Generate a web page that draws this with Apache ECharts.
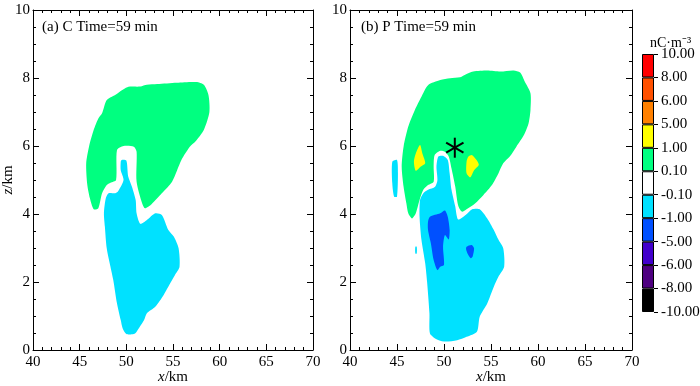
<!DOCTYPE html>
<html><head><meta charset="utf-8">
<script src="https://cdn.jsdelivr.net/npm/echarts@6/dist/echarts.min.js"></script>
<style>html,body{margin:0;padding:0;background:#fff}#c{width:700px;height:386px}</style>
</head><body><div id="c"></div>
<script>
const panelTitles = ['(a) C Time=59 min', '(b) P Time=59 min'];
const xRange = [40, 70];
const zRange = [0, 10];
// colour bar: boundaries bottom -> top, colours of each bin bottom -> top
const cbLabels = ['-10.00','-8.00','-6.00','-5.00','-1.00','-0.10','0.10','1.00','5.00','6.00','8.00','10.00'];
const cbColors = ['#000000','#4e0080','#4200cc','#0050ff','#00e1ff','#ffffff','#00ff80','#ffff00','#ff8000','#ff5000','#ff0000'];
const LV = {blue:3, cyan:4, green:6, yellow:7};

// Panel (a) contour polygons [x km, z km]
const aGreen = [[47.9,7.35],[48.8,7.5],[50.1,7.73],[51.5,7.75],[52.2,7.8],[53.3,7.82],[55.4,7.86],[57.5,7.88],[58.3,7.8],[58.8,7.5],[58.9,7.0],[58.3,6.47],[57.4,6.13],[56.8,5.98],[55.9,5.59],[54.9,4.95],[53.8,4.61],[52.7,4.29],[52.0,4.17],[51.7,4.31],[51.1,4.95],[51.1,5.83],[50.8,5.98],[49.7,6.0],[49.0,5.88],[48.9,5.0],[48.3,4.92],[47.9,4.85],[47.4,4.61],[47.0,4.17],[46.5,4.14],[46.1,4.46],[45.8,4.9],[45.7,5.49],[46.0,5.98],[46.5,6.47],[47.0,6.81],[47.4,6.96]];
const aCyan = [[49.5,5.59],[50.0,5.57],[50.2,5.1],[50.6,4.8],[51.0,4.41],[51.1,4.02],[51.5,3.71],[52.2,3.82],[53.1,4.02],[53.8,3.97],[54.5,3.53],[55.1,3.33],[55.6,2.99],[55.7,2.45],[55.2,2.2],[54.7,1.96],[54.0,1.62],[53.1,1.27],[52.2,1.08],[51.9,0.88],[51.1,0.54],[50.8,0.47],[50.0,0.47],[49.6,0.64],[49.4,0.88],[49.0,1.37],[48.6,2.06],[48.3,2.45],[47.9,2.99],[47.7,3.63],[47.6,4.02],[47.8,4.46],[48.1,4.61],[48.8,4.61],[49.1,4.66],[49.7,5.0],[49.4,5.29],[49.4,5.54]];

// Panel (b) contour polygons
const bGreen = [[48.3,7.79],[49.6,7.94],[50.65,7.99],[51.7,8.02],[52.2,8.09],[53.1,8.19],[54.6,8.22],[56.0,8.19],[57.4,8.22],[58.1,8.16],[58.6,7.89],[59.2,7.55],[59.2,7.06],[59.0,6.67],[58.5,6.32],[57.7,5.98],[57.0,5.69],[56.3,5.49],[55.8,5.2],[55.1,4.85],[54.2,4.56],[53.3,4.31],[52.4,4.14],[51.9,4.07],[51.5,4.26],[51.2,4.8],[50.8,5.34],[50.5,5.69],[50.1,5.83],[49.6,5.86],[49.0,5.73],[48.9,5.39],[48.9,4.95],[48.3,4.85],[47.8,4.71],[47.4,4.41],[47.0,4.02],[46.6,3.87],[46.2,4.02],[46.0,4.31],[45.7,4.8],[45.5,5.39],[45.7,5.98],[46.2,6.57],[46.9,7.06],[47.6,7.45]];
const bYellowL = [[47.45,6.03],[47.7,5.78],[48.0,5.49],[47.5,5.39],[47.0,5.27],[46.8,5.54],[47.0,5.78]];
const bYellowR = [[53.0,5.73],[53.5,5.57],[53.7,5.44],[53.2,5.29],[52.8,5.08],[52.4,5.2],[52.4,5.54],[52.6,5.69]];
const bCyan = [[49.4,5.69],[49.9,5.71],[50.4,5.59],[50.6,5.2],[50.8,4.71],[51.2,4.22],[51.5,3.84],[52.3,3.97],[53.0,4.14],[53.8,4.14],[54.6,3.87],[55.3,3.53],[55.8,3.24],[56.3,2.99],[56.4,2.45],[55.8,2.16],[55.3,1.86],[54.6,1.37],[53.8,0.98],[53.5,0.54],[52.4,0.39],[51.4,0.29],[50.0,0.25],[49.05,0.34],[48.5,0.49],[48.45,1.08],[48.2,2.01],[48.0,2.55],[47.6,3.24],[47.4,3.92],[47.45,4.41],[47.8,4.61],[48.3,4.71],[49.05,4.8],[49.3,5.0],[49.2,5.39]];
const bCyanSmall = [[44.5,5.54],[45.0,5.59],[45.1,5.2],[45.0,4.51],[44.7,4.51],[44.5,4.9]];
const bCyanTiny = [[46.95,3.04],[47.1,3.04],[47.1,2.84],[46.95,2.84]];
const bBlueL = [[48.5,3.92],[49.6,4.02],[50.1,4.1],[50.4,3.92],[50.6,3.53],[50.5,3.25],[50.1,3.38],[49.9,3.04],[50.0,2.5],[49.6,2.45],[49.3,2.35],[48.9,2.65],[48.6,3.14],[48.3,3.53],[48.3,3.77]];
const bBlueR = [[52.4,3.04],[52.95,3.09],[53.2,2.99],[53.05,2.75],[52.85,2.7],[52.5,2.84],[52.35,2.96]];
const bStar = [51.15, 5.95];

const FONT = '"Liberation Serif", "Times New Roman", serif';
const black = '#000';

function polySeries(idx, polys, levels) {
  return {
    type: 'custom', xAxisIndex: idx, yAxisIndex: idx, silent: true, animation: false, clip: true,
    data: polys.map(p => p[0]),
    renderItem: (params, api) => {
      const pts = polys[params.dataIndex].map(v => api.coord(v));
      return {type: 'polygon', shape: {points: pts, smooth: 0.25}, style: {fill: cbColors[levels[params.dataIndex]], stroke: null}};
    }
  };
}

function xAx(grid, pos, withLabel) {
  return {
    type: 'value', gridIndex: grid, position: pos, min: xRange[0], max: xRange[1], interval: 5,
    axisLine: {show: true, onZero: false, lineStyle: {color: black, width: 1}},
    axisTick: {show: true, inside: true, length: 6, lineStyle: {color: black}},
    minorTick: {show: true, splitNumber: 5, length: 3, lineStyle: {color: black}},
    splitLine: {show: false},
    axisLabel: {show: withLabel, color: black, fontFamily: FONT, fontSize: 15, margin: 5},
    name: withLabel ? '{i|x}/km' : '', nameLocation: 'middle', nameGap: 20, nameMoveOverlap: false,
    nameTextStyle: {color: black, fontFamily: FONT, fontSize: 15, rich: {i: {fontStyle: 'italic', fontFamily: FONT, fontSize: 15, color: black}}}
  };
}
function yAx(grid, pos, withLabel, withName) {
  return {
    type: 'value', gridIndex: grid, position: pos, min: zRange[0], max: zRange[1], interval: 2,
    axisLine: {show: true, onZero: false, lineStyle: {color: black, width: 1}},
    axisTick: {show: true, inside: true, length: 6, lineStyle: {color: black}},
    minorTick: {show: true, splitNumber: 4, length: 3, lineStyle: {color: black}},
    splitLine: {show: false},
    axisLabel: {show: withLabel, color: black, fontFamily: FONT, fontSize: 15, margin: 3},
    name: withName ? '{i|z}/km' : '', nameLocation: 'middle', nameGap: 17, nameRotate: 90, nameMoveOverlap: false,
    nameTextStyle: {color: black, fontFamily: FONT, fontSize: 15, rich: {i: {fontStyle: 'italic', fontFamily: FONT, fontSize: 15, color: black}}}
  };
}

const cbSeries = cbColors.map((c, i) => ({
  type: 'bar', xAxisIndex: 4, yAxisIndex: 4, stack: 'cb', barWidth: '100%', silent: true, animation: false,
  data: [1], itemStyle: {color: c, borderColor: black, borderWidth: 1}
}));

const G = {outerBoundsMode: 'none', containLabel: false};
const option = {
  backgroundColor: '#fff',
  animation: false,
  title: [
    {text: panelTitles[0], left: 42, top: 20, padding: 0, textStyle: {fontFamily: FONT, fontSize: 15, fontWeight: 'normal', color: black}},
    {text: panelTitles[1], left: 361, top: 20, padding: 0, textStyle: {fontFamily: FONT, fontSize: 15, fontWeight: 'normal', color: black}},
    {text: 'nC·m⁻³', left: 650, top: 36, padding: 0, textStyle: {fontFamily: FONT, fontSize: 14, fontWeight: 'normal', color: black}}
  ],
  grid: [
    {left: 33, top: 10, width: 280, height: 340, ...G},
    {left: 33, top: 10, width: 280, height: 340, ...G},
    {left: 350, top: 10, width: 282, height: 340, ...G},
    {left: 350, top: 10, width: 282, height: 340, ...G},
    {left: 642, top: 54, width: 12, height: 258, ...G}
  ],
  xAxis: [
    xAx(0, 'bottom', true), xAx(1, 'top', false), xAx(2, 'bottom', true), xAx(3, 'top', false),
    {type: 'category', gridIndex: 4, data: ['c'], show: false}
  ],
  yAxis: [
    yAx(0, 'left', true, true), yAx(1, 'right', false, false), yAx(2, 'left', true, false), yAx(3, 'right', false, false),
    {type: 'value', gridIndex: 4, position: 'right', min: 0, max: cbColors.length, interval: 1,
     axisLine: {show: false}, splitLine: {show: false},
     axisTick: {show: true, inside: false, length: 4, lineStyle: {color: black}},
     axisLabel: {color: black, fontFamily: FONT, fontSize: 15, margin: 7, formatter: v => cbLabels[Math.round(v)]}}
  ],
  series: [
    polySeries(0, [aGreen, aCyan], [LV.green, LV.cyan]),
    polySeries(2, [bGreen, bYellowL, bYellowR, bCyan, bCyanSmall, bCyanTiny, bBlueL, bBlueR],
      [LV.green, LV.yellow, LV.yellow, LV.cyan, LV.cyan, LV.cyan, LV.blue, LV.blue]),
    {type: 'custom', xAxisIndex: 2, yAxisIndex: 2, silent: true, animation: false, data: [bStar],
     renderItem: (params, api) => {
       const c = api.coord([api.value(0), api.value(1)]);
       const r = 10;
       return {type: 'group', children: [0, 60, 120].map(a => {
         const t = a * Math.PI / 180;
         return {type: 'line', shape: {x1: c[0] - r * Math.sin(t), y1: c[1] - r * Math.cos(t), x2: c[0] + r * Math.sin(t), y2: c[1] + r * Math.cos(t)}, style: {stroke: black, lineWidth: 2}};
       })};
     }},
    ...cbSeries
  ]
};
const chart = echarts.init(document.getElementById('c'), null, {renderer: 'canvas'});
chart.setOption(option);
</script></body></html>
